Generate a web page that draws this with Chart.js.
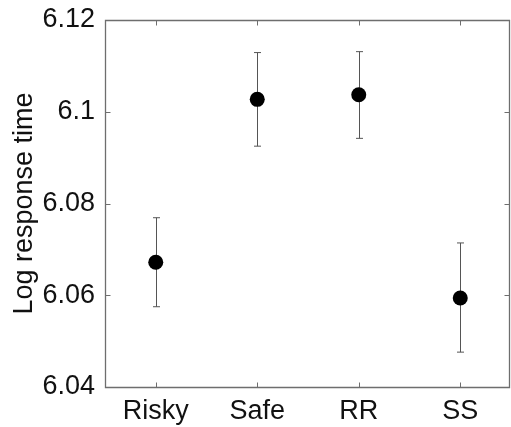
<!DOCTYPE html>
<html>
<head>
<meta charset="utf-8">
<script src="https://cdn.jsdelivr.net/npm/chart.js@4/dist/chart.umd.min.js"></script>
<style>
html,body{margin:0;padding:0;background:#fff;}
#wrap{width:511px;height:427px;}
</style>
</head>
<body>
<div id="wrap"><canvas id="c" width="511" height="427"></canvas></div>
<script>
const categories = ['Risky', 'Safe', 'RR', 'SS'];
const means = [6.0672, 6.1027, 6.1037, 6.0594];
const upper = [6.0769, 6.1129, 6.1131, 6.0714];
const lower = [6.0575, 6.0925, 6.0942, 6.0476];
const yTicks = [6.04, 6.06, 6.08, 6.1, 6.12];
const yTitle = 'Log response time';

const FONT = 'Liberation Sans, Arial, Helvetica, sans-serif';
const AXIS_COLOR = '#6e6e6e';
const TICK_LEN = 5;

const errorBars = {
  id: 'errorBars',
  beforeDatasetsDraw(chart) {
    const ctx = chart.ctx, x = chart.scales.x, y = chart.scales.y;
    ctx.save();
    ctx.strokeStyle = '#555';
    ctx.lineWidth = 1;
    const cap = 3.5;
    categories.forEach((c, i) => {
      const px = Math.round(x.getPixelForValue(i)) + 0.5;
      const yt = y.getPixelForValue(upper[i]);
      const yb = y.getPixelForValue(lower[i]);
      ctx.beginPath();
      ctx.moveTo(px, yt); ctx.lineTo(px, yb);
      ctx.moveTo(px - cap, yt); ctx.lineTo(px + cap, yt);
      ctx.moveTo(px - cap, yb); ctx.lineTo(px + cap, yb);
      ctx.stroke();
    });
    ctx.restore();
  }
};

const frame = {
  id: 'frame',
  afterDraw(chart) {
    const ctx = chart.ctx, a = chart.chartArea, x = chart.scales.x, y = chart.scales.y;
    ctx.save();
    ctx.strokeStyle = AXIS_COLOR;
    ctx.lineWidth = 1.3;
    const l = Math.round(a.left) + 0.5, r = Math.round(a.right) - 1.5;
    const t = Math.round(a.top) + 0.5, b = Math.round(a.bottom) + 0.5;
    ctx.beginPath();
    ctx.rect(l, t, r - l, b - t);
    ctx.stroke();
    ctx.lineWidth = 1;
    ctx.beginPath();
    yTicks.forEach(v => {
      const py = Math.round(y.getPixelForValue(v)) + 0.5;
      ctx.moveTo(l, py); ctx.lineTo(l + TICK_LEN, py);
      ctx.moveTo(r, py); ctx.lineTo(r - TICK_LEN, py);
    });
    categories.forEach((c, i) => {
      const px = Math.round(x.getPixelForValue(i)) + 0.5;
      ctx.moveTo(px, b); ctx.lineTo(px, b - TICK_LEN);
      ctx.moveTo(px, t); ctx.lineTo(px, t + TICK_LEN);
    });
    ctx.stroke();
    ctx.restore();
  }
};

function noPad(s) {
  s.paddingTop = 0; s.paddingBottom = 0; s.paddingLeft = 0; s.paddingRight = 0;
}

new Chart(document.getElementById('c'), {
  type: 'line',
  data: {
    labels: categories,
    datasets: [{
      data: means,
      showLine: false,
      pointRadius: 7.5,
      pointHoverRadius: 7.5,
      pointBackgroundColor: '#000',
      pointBorderColor: '#000',
      pointBorderWidth: 0
    }]
  },
  options: {
    responsive: false,
    animation: false,
    events: [],
    layout: { autoPadding: false, padding: { top: 20, right: 0, left: 0, bottom: 0 } },
    plugins: { legend: { display: false }, tooltip: { enabled: false } },
    scales: {
      x: {
        type: 'category',
        offset: true,
        grid: { display: false, drawTicks: false },
        border: { display: false },
        ticks: { color: '#111', font: { family: FONT, size: 27 }, padding: 8, maxRotation: 0, autoSkip: false },
        afterFit(s) { s.height = 40; noPad(s); }
      },
      y: {
        min: 6.04,
        max: 6.12,
        grid: { display: false, drawTicks: false },
        border: { display: false },
        afterBuildTicks(s) { s.ticks = yTicks.map(v => ({ value: v })); },
        ticks: {
          color: '#111',
          font: { family: FONT, size: 27 },
          padding: 10,
          callback: v => String(Number(v.toFixed(2)))
        },
        title: {
          display: true,
          text: yTitle,
          color: '#111',
          font: { family: FONT, size: 27 },
          padding: { top: 8, bottom: 0 }
        },
        afterFit(s) { s.width = 105; noPad(s); }
      }
    }
  },
  plugins: [errorBars, frame]
});
</script>
</body>
</html>
